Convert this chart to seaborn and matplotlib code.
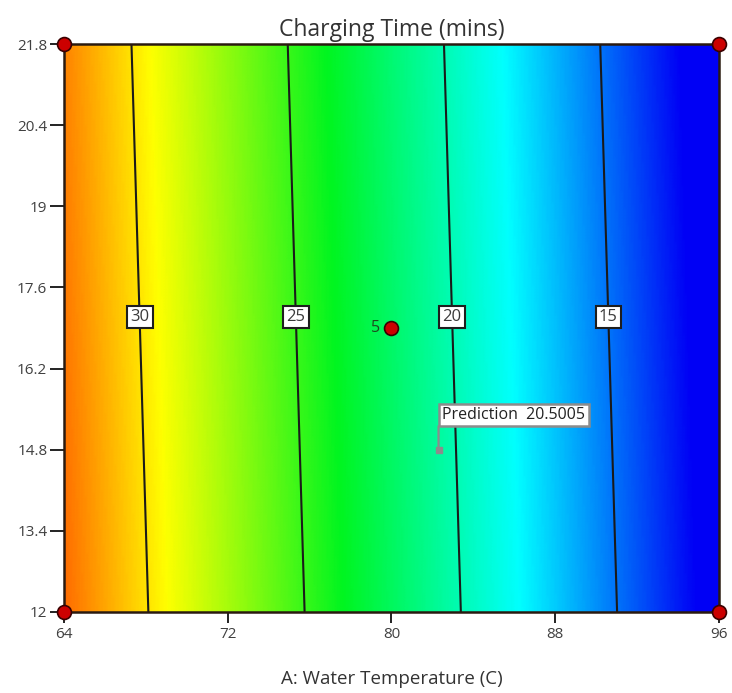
import numpy as np
import matplotlib
matplotlib.use("Agg")
import matplotlib.pyplot as plt
from matplotlib.colors import LinearSegmentedColormap
import seaborn as sns

# Factor ranges
temp_range = [64, 96]          # A: Water Temperature (C)
other_range = [12, 21.8]       # second factor (vertical axis)

# Fitted response (Charging Time, mins) at the corners of the design space
corner_temps = [64, 96]
corner_other = [12, 21.8]
corner_time = [[32.70, 11.74],   # at other = 12
               [32.16, 11.20]]   # at other = 21.8

# Contour levels
levels = [15, 20, 25, 30]

# Design points and run counts
design_x = [64, 64, 96, 96, 80]
design_y = [12, 21.8, 12, 21.8, 16.9]
center_runs = 5

# Prediction flag
pred_x, pred_y = 82.3, 14.8
pred_value = 20.5005

xticks = [64, 72, 80, 88, 96]
yticks = [12, 13.4, 14.8, 16.2, 17.6, 19, 20.4, 21.8]

sns.set_theme(style="white")
plt.rcParams["font.family"] = ["Open Sans", "DejaVu Sans"]

fig = plt.figure(figsize=(7.32, 6.93), dpi=100)
ax = fig.add_axes([0.0874, 0.1169, 0.8948, 0.8196])

# Bilinear surface over the factor space
gx = np.linspace(temp_range[0], temp_range[1], 400)
gy = np.linspace(other_range[0], other_range[1], 200)
X, Y = np.meshgrid(gx, gy)
fx = (X - corner_temps[0]) / (corner_temps[1] - corner_temps[0])
fy = (Y - corner_other[0]) / (corner_other[1] - corner_other[0])
c = np.array(corner_time)
Z = (c[0, 0] * (1 - fx) * (1 - fy) + c[0, 1] * fx * (1 - fy)
     + c[1, 0] * (1 - fx) * fy + c[1, 1] * fx * fy)

cmap = LinearSegmentedColormap.from_list(
    "de_rainbow",
    [(0.0, "#0000f5"), (0.25, "#00ffff"), (0.5, "#00f520"),
     (0.75, "#ffff00"), (1.0, "#ff0000")])
ax.pcolormesh(X, Y, Z, cmap=cmap, vmin=12.4, vmax=35.1, shading="gouraud",
              rasterized=True)

cs = ax.contour(X, Y, Z, levels=levels, colors="#1a1a1a", linewidths=1.5)

# Boxed contour labels along a common row
label_y = 17.09
row = Z[np.argmin(np.abs(gy - label_y))]
for lev in levels:
    lx = np.interp(lev, row[::-1], gx[::-1])
    ax.text(lx, label_y, f"{lev}", ha="center", va="center", fontsize=12,
            color="#3a3a3a", zorder=5,
            bbox=dict(boxstyle="square,pad=0.2", fc="white", ec="#1e1e1e",
                      lw=1.5))

# Design points
ax.scatter(design_x, design_y, s=100, color="#cc0000", edgecolor="#3a0000",
           linewidth=1.2, zorder=6, clip_on=False)
ax.text(design_x[-1] - 0.55, design_y[-1], f"{center_runs}", ha="right",
        va="center", fontsize=11.5, color="#1d4a1d", zorder=6)

# Prediction flag: stem, marker and label box
flag_rise = 17
ax.annotate("", xy=(pred_x, pred_y), xytext=(0, flag_rise),
            textcoords="offset points",
            arrowprops=dict(arrowstyle="-", color="#8c8c8c", lw=1.6,
                            shrinkA=0, shrinkB=0), zorder=6)
ax.plot([pred_x], [pred_y], marker="s", ms=4, color="#8c8c8c", zorder=6)
pad_pts = 0.2 * 11.5
ax.annotate(f"Prediction  {pred_value}", xy=(pred_x, pred_y),
            xytext=(pad_pts + 0.5, flag_rise + pad_pts),
            textcoords="offset points", ha="left", va="bottom",
            fontsize=11.5, color="#222222", zorder=7,
            bbox=dict(boxstyle="square,pad=0.2", fc="white", ec="#8c8c8c",
                      lw=1.8))

ax.set_xlim(temp_range)
ax.set_ylim(other_range)
ax.set_xticks(xticks)
ax.set_xticklabels([f"{t:g}" for t in xticks])
ax.set_yticks(yticks)
ax.set_yticklabels([f"{t:g}" for t in yticks])
ax.tick_params(axis="both", which="both", direction="out", width=1.4,
               color="#222222", labelsize=11, labelcolor="#404040",
               bottom=True, left=True)
ax.tick_params(axis="y", length=10, pad=2)
ax.tick_params(axis="x", length=8, pad=3)
for side in ["left", "right", "top", "bottom"]:
    ax.spines[side].set_color("#2a1a10")
    ax.spines[side].set_linewidth(1.8)

ax.set_title("Charging Time (mins)", fontsize=16.5, color="#333333", pad=6)
ax.set_xlabel("A: Water Temperature (C)", fontsize=13.5, color="#333333",
              labelpad=20)

fig.savefig("out.png", dpi=100, facecolor="white")
